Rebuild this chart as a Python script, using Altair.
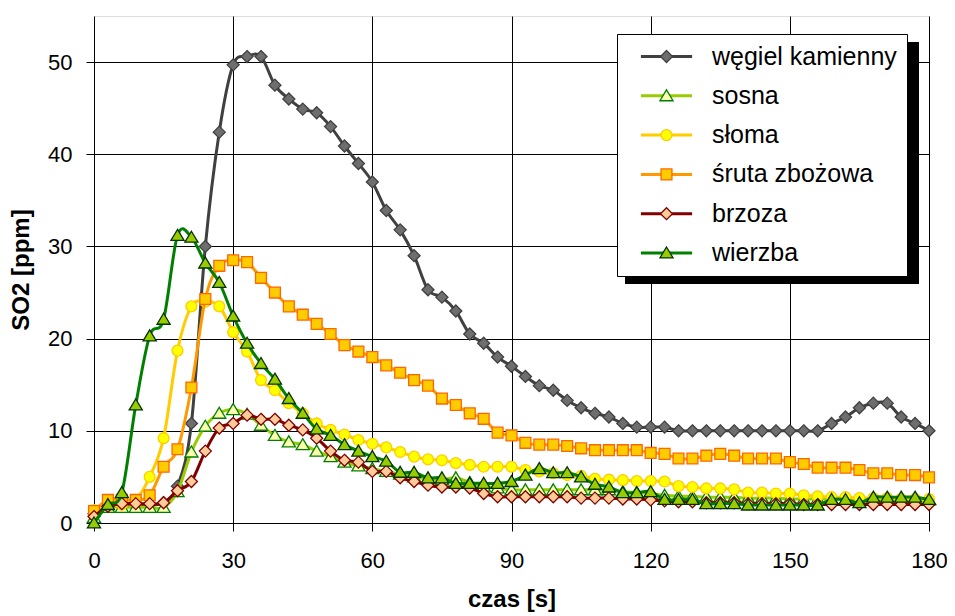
import altair as alt
import pandas as pd

# ---------------- data ----------------
times = list(range(0, 181, 3))
series_names = ["węgiel kamienny", "sosna", "słoma", "śruta zbożowa", "brzoza", "wierzba"]

wegiel = [1.0, 1.8, 2.0, 2.0, 2.0, 2.2, 4.0, 10.8, 30.0, 42.4,
          49.7, 50.6, 50.6, 47.5, 46.0, 44.9, 44.5, 43.0, 40.9, 39.0,
          37.0, 33.9, 31.8, 29.0, 25.3, 24.5, 23.0, 20.5, 19.5, 18.0,
          17.0, 15.9, 14.9, 14.4, 13.3, 12.5, 11.9, 11.5, 10.8, 10.4,
          10.4, 10.4, 10.0, 10.0, 10.0, 10.0, 10.0, 10.0, 10.0, 10.0,
          10.0, 10.0, 10.0, 10.8, 11.5, 12.5, 13.0, 13.0, 11.5, 10.8,
          10.0]
sosna = [0.6, 1.7, 1.7, 1.7, 1.7, 1.7, 3.4, 7.7, 10.5, 11.9,
         12.3, 11.8, 10.6, 9.5, 8.8, 8.5, 7.8, 7.2, 6.6, 6.2,
         5.9, 5.6, 5.3, 5.0, 4.8, 4.7, 4.9, 4.4, 4.0, 3.8,
         3.6, 3.6, 3.6, 3.6, 3.6, 3.6, 3.6, 3.6, 3.4, 3.3,
         3.2, 3.0, 2.9, 2.9, 2.8, 2.8, 2.8, 2.7, 2.7, 2.7,
         2.6, 2.6, 2.6, 2.6, 2.5, 2.5, 2.5, 2.5, 2.5, 2.5,
         2.5]
sloma = [1.4, 2.0, 2.0, 2.5, 5.0, 9.2, 18.7, 23.5, 24.0, 23.5,
         20.7, 18.6, 15.5, 14.4, 13.0, 11.9, 10.8, 10.1, 9.6, 9.0,
         8.6, 8.2, 7.7, 7.2, 6.9, 6.8, 6.5, 6.3, 6.1, 6.1,
         6.1, 5.75, 5.6, 5.4, 5.2, 5.1, 4.8, 4.7, 4.65, 4.55,
         4.55, 4.5, 4.0, 3.9, 3.75, 3.75, 3.65, 3.3, 3.3, 3.2,
         3.2, 3.0, 2.9, 2.8, 2.8, 2.7, 2.7, 2.7, 2.6, 2.6,
         2.6]
sruta = [1.3, 2.5, 2.5, 2.5, 3.0, 6.1, 8.0, 14.7, 24.3, 27.9,
         28.5, 28.3, 26.6, 25.0, 23.5, 22.6, 21.6, 20.5, 19.3, 18.6,
         18.0, 17.1, 16.3, 15.5, 14.9, 13.5, 12.8, 11.9, 11.3, 9.8,
         9.5, 8.7, 8.5, 8.5, 8.35, 8.1, 7.9, 7.9, 7.9, 7.9,
         7.6, 7.5, 7.0, 7.0, 7.3, 7.5, 7.3, 7.0, 7.0, 7.0,
         6.6, 6.4, 6.0, 6.0, 6.0, 5.75, 5.4, 5.4, 5.2, 5.2,
         4.95]
brzoza = [0.7, 1.8, 2.1, 2.1, 2.1, 2.2, 3.5, 4.5, 7.8, 10.3,
          10.8, 11.7, 11.25, 11.25, 10.6, 10.1, 9.2, 7.8, 6.8, 6.6,
          5.6, 5.6, 4.9, 4.5, 4.1, 3.9, 3.9, 3.8, 3.2, 2.85,
          2.85, 2.85, 2.85, 2.85, 2.85, 2.7, 2.7, 2.7, 2.6, 2.6,
          2.5, 2.4, 2.3, 2.3, 2.2, 2.2, 2.2, 2.1, 2.1, 2.1,
          2.1, 2.0, 2.0, 2.0, 2.0, 2.0, 2.0, 2.0, 2.0, 2.0,
          2.0]
wierzba = [0.0, 2.0, 3.3, 12.8, 20.3, 22.1, 31.2, 31.0, 28.2, 26.1,
           22.45, 19.5, 17.3, 15.6, 13.5, 11.9, 10.2, 9.5, 8.5, 7.8,
           7.2, 6.7, 5.5, 5.5, 4.9, 4.9, 4.3, 4.3, 4.3, 4.3,
           4.5, 5.2, 5.9, 5.45, 5.45, 5.0, 4.2, 3.9, 3.3, 3.3,
           3.4, 2.55, 2.55, 2.55, 2.1, 2.1, 2.1, 1.95, 1.95, 1.95,
           1.95, 1.95, 1.95, 2.55, 2.55, 2.2, 2.8, 2.8, 2.8, 2.8,
           2.55]
all_values = [wegiel, sosna, sloma, sruta, brzoza, wierzba]

x_ticks = [0, 30, 60, 90, 120, 150, 180]
y_ticks = [0, 10, 20, 30, 40, 50]

# ---------------- styles ----------------
line_colors = ["#404040", "#99cc00", "#ffcc00", "#ff9900", "#800000", "#008000"]
marker_fill = ["#6e6e6e", "#ffffb0", "#ffff00", "#ffcc00", "#ffcc99", "#99cc00"]
marker_stroke = ["#404040", "#008000", "#ffcc00", "#ff6600", "#800000", "#003300"]
marker_paths = [
    "M0,-0.75L0.75,0L0,0.75L-0.75,0Z",
    "M0,-0.75L0.82,0.62L-0.82,0.62Z",
    "M0.68,0A0.68,0.68 0 1,1 -0.68,0A0.68,0.68 0 1,1 0.68,0Z",
    "M-0.68,-0.68L0.68,-0.68L0.68,0.68L-0.68,0.68Z",
    "M0,-0.75L0.75,0L0,0.75L-0.75,0Z",
    "M0,-0.75L0.82,0.62L-0.82,0.62Z",
]
marker_keys = ["m0", "m1", "m2", "m3", "m4", "m5"]
FONT = "Liberation Sans"
SYM = 256

rows = []
for name, key, vals in zip(series_names, marker_keys, all_values):
    for t, v in zip(times, vals):
        rows.append({"t": t, "v": v, "seria": name, "znacznik": key})
df = pd.DataFrame(rows)

x_enc = alt.X(
    "t:Q",
    scale=alt.Scale(domain=[0, 180], nice=False, zero=False),
    axis=alt.Axis(
        values=x_ticks, title="czas [s]", grid=True, gridColor="black", gridWidth=1,
        domain=False, tickColor="black", tickSize=8, tickWidth=1,
        labelFont=FONT, labelFontSize=22, labelColor="black", labelPadding=19,
        titleFont=FONT, titleFontSize=24, titleFontWeight="bold", titleColor="black",
        titlePadding=16, labelFlush=False,
    ),
)
y_enc = alt.Y(
    "v:Q",
    scale=alt.Scale(domain=[0, 55], nice=False),
    axis=alt.Axis(
        values=y_ticks, title="SO2 [ppm]", grid=True, gridColor="black", gridWidth=1,
        domain=False, tickColor="black", tickSize=8, tickWidth=1,
        labelFont=FONT, labelFontSize=22, labelColor="black", labelPadding=14,
        titleFont=FONT, titleFontSize=24, titleFontWeight="bold", titleColor="black",
        titlePadding=14, labelFlush=False,
    ),
)

legend_common = dict(
    title=None, orient="none", legendX=523, legendY=18, padding=10, rowPadding=13.3,
    symbolSize=SYM, symbolOffset=27, labelOffset=33, labelFont=FONT, labelFontSize=25,
    labelColor="black", labelLimit=400,
)
legend_lines = alt.Legend(
    symbolType="M-3.2,0L3.2,0", symbolStrokeWidth=3,
    fillColor="white", strokeColor="black", zindex=1, **legend_common,
)
legend_marks = alt.Legend(
    symbolStrokeWidth=1.3, labelOpacity=0, labelExpr="' '", zindex=2, **legend_common
)

color_enc = alt.Color("seria:N", scale=alt.Scale(domain=series_names, range=line_colors), legend=legend_lines)
fill_enc = alt.Fill("znacznik:N", scale=alt.Scale(domain=marker_keys, range=marker_fill), legend=legend_marks)
stroke_enc = alt.Stroke("znacznik:N", scale=alt.Scale(domain=marker_keys, range=marker_stroke), legend=legend_marks)
shape_enc = alt.Shape("znacznik:N", scale=alt.Scale(domain=marker_keys, range=marker_paths), legend=legend_marks)

layers = []
for name in series_names:
    sub = alt.Chart(df).transform_filter(alt.datum.seria == name)
    layers.append(
        sub.mark_line(strokeWidth=3, interpolate="cardinal").encode(x=x_enc, y=y_enc, color=color_enc)
    )
    layers.append(
        sub.mark_point(size=SYM, filled=True, strokeWidth=1.3, opacity=1).encode(
            x=x_enc, y=y_enc, fill=fill_enc, stroke=stroke_enc, shape=shape_enc
        )
    )

shadow = alt.Chart(alt.Data(values=[{"a": 1}])).mark_rect(color="black").encode(
    x=alt.value(531), x2=alt.value(825), y=alt.value(26), y2=alt.value(268)
)

chart = alt.layer(shadow, *layers).properties(
    width=835, height=507,
    padding={"left": 86, "top": 8, "right": 18, "bottom": 90},
    autosize=alt.AutoSizeParams(type="none"),
    background="white",
).configure_view(stroke="black", strokeWidth=2).configure(font=FONT)

chart.save("out.html", embed_options={"renderer": "svg", "actions": False})
